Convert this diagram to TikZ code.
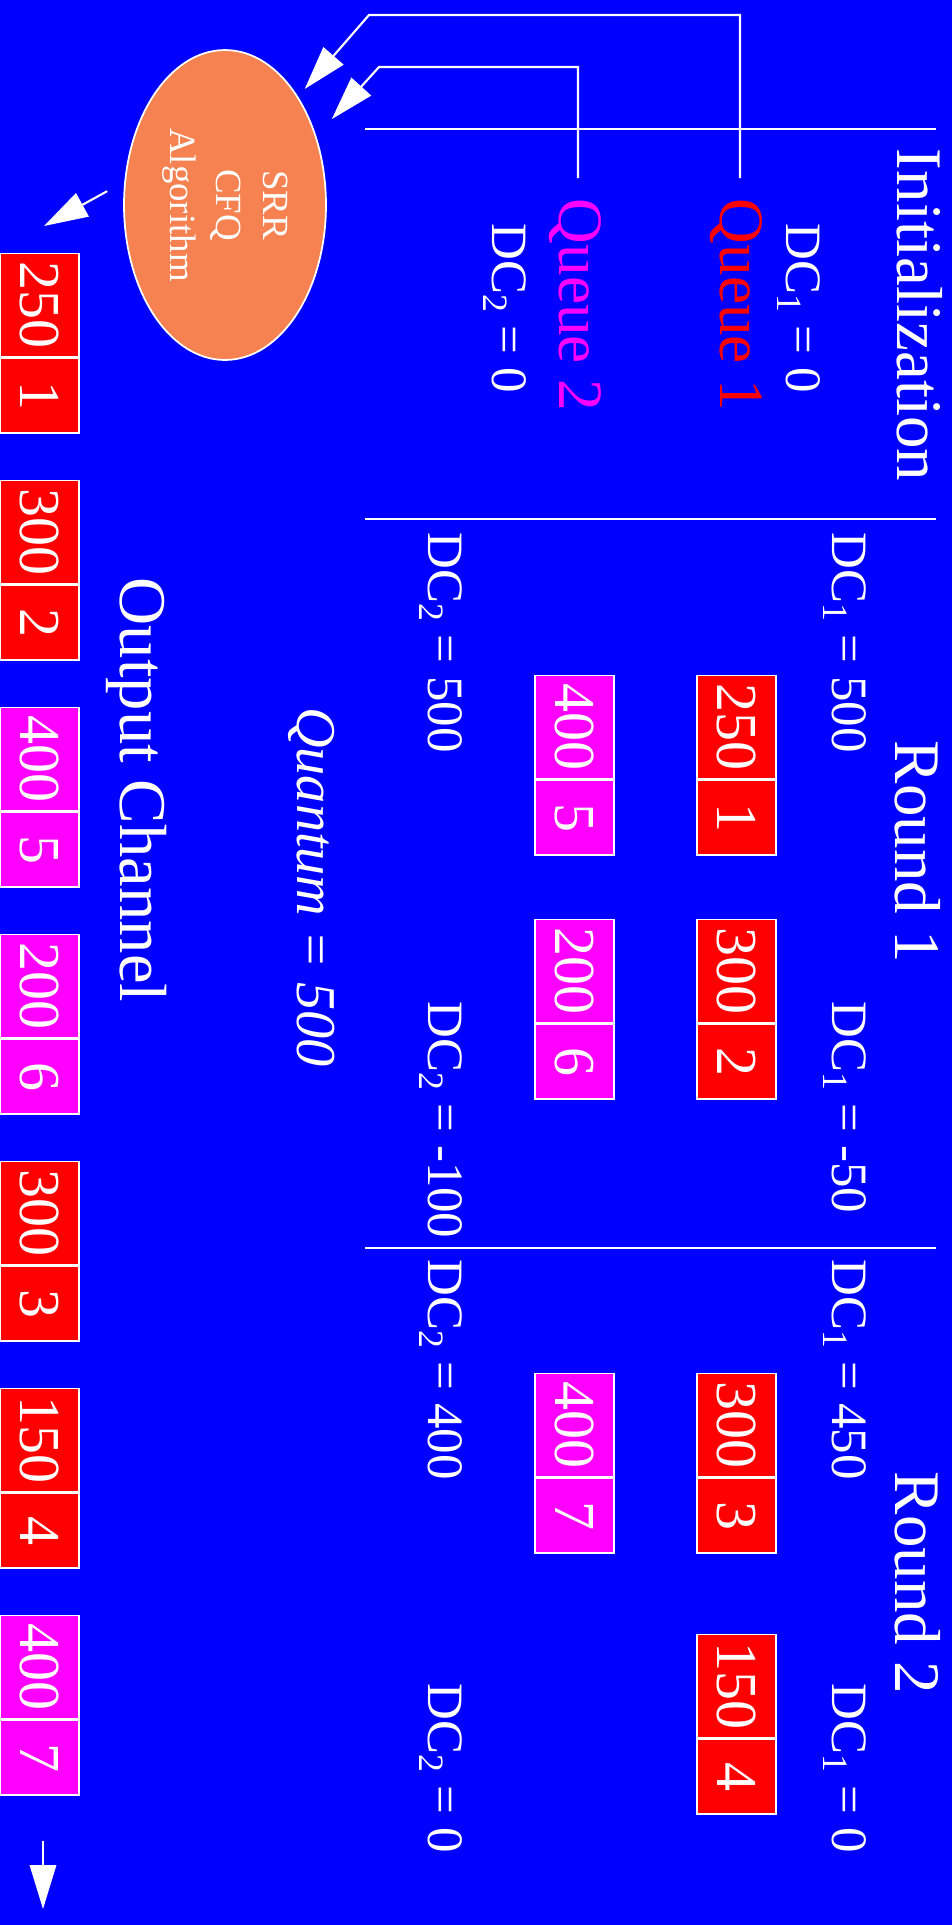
\documentclass[tikz,border=0pt]{standalone}
\usepackage{fontspec}
\setmainfont{Liberation Serif}
\usetikzlibrary{arrows.meta,shapes.geometric}
\definecolor{slide}{RGB}{0,0,255}
\definecolor{algo}{RGB}{245,130,80}
\definecolor{qred}{RGB}{255,0,0}
\definecolor{qmag}{RGB}{255,0,255}
\begin{document}
\begin{tikzpicture}[x=0.02cm, y=-0.02cm, every node/.style={text=white, rotate=-90, inner sep=0pt},
	ttl/.style={font=\fontsize{37}{40}\selectfont, anchor=base},
	que/.style={font=\fontsize{36}{40}\selectfont, anchor=base},
	dc/.style={font=\fontsize{29}{32}\selectfont, anchor=base west},
	pkt/.style={draw=white, line width=0.8pt, minimum height=1.58cm, anchor=west, font=\fontsize{33}{35}\selectfont},
	pktsize/.style={pkt, minimum width=2.06cm}, pktnum/.style={pkt, minimum width=1.5cm},
	wire/.style={draw=white, line width=1.2pt}, arr/.style={wire, -{Triangle[length=25pt, width=15pt]}}]
	\useasboundingbox (0,0) rectangle (952,1925);
	\fill[slide] (0,0) rectangle (952,1925);
	% column heads and separators
	\node[ttl] (init) at (897,315) {Initialization};
	\node[ttl] (rnd1) at (895,852) {Round 1};
	\node[ttl] (rnd2) at (895,1583) {Round 2};
	\draw[wire] (365,129) -- (936,129); \draw[wire] (365,519) -- (936,519); \draw[wire] (365,1248) -- (936,1248);
	% initialization
	\node[dc, anchor=base] (dca0) at (786,308) {DC\textsubscript{1} = 0};
	\node[que, text=qred] (q1) at (720,305) {Queue 1};
	\node[que, text=qmag] (q2) at (559,305) {Queue 2};
	\node[dc, anchor=base] (dcb0) at (492,308) {DC\textsubscript{2} = 0};
	% round 1
	\node[dc] (dca1) at (832,532) {DC\textsubscript{1} = 500}; \node[dc] (dcb1) at (428,532) {DC\textsubscript{2} = 500};
	\node[dc] (dca2) at (832,1001) {DC\textsubscript{1} = -50}; \node[dc] (dcb2) at (428,1001) {DC\textsubscript{2} = -100};
	\node[pktsize, fill=qred] (ra1) at (736.5,675) {250}; \node[pktnum, fill=qred] (ra1n) at (ra1.east) {1};
	\node[pktsize, fill=qred] (ra2) at (736.5,919) {300}; \node[pktnum, fill=qred] (ra2n) at (ra2.east) {2};
	\node[pktsize, fill=qmag] (rb1) at (574.5,675) {400}; \node[pktnum, fill=qmag] (rb1n) at (rb1.east) {5};
	\node[pktsize, fill=qmag] (rb2) at (574.5,919) {200}; \node[pktnum, fill=qmag] (rb2n) at (rb2.east) {6};
	\node[font=\fontsize{32}{34}\selectfont\itshape, anchor=base] (quant) at (297,887) {Quantum = 500};
	% round 2
	\node[dc] (dca3) at (832,1259) {DC\textsubscript{1} = 450}; \node[dc] (dcb3) at (428,1259) {DC\textsubscript{2} = 400};
	\node[dc] (dca4) at (832,1683) {DC\textsubscript{1} = 0}; \node[dc] (dcb4) at (428,1683) {DC\textsubscript{2} = 0};
	\node[pktsize, fill=qred] (ra3) at (736.5,1373) {300}; \node[pktnum, fill=qred] (ra3n) at (ra3.east) {3};
	\node[pktsize, fill=qred] (ra4) at (736.5,1634) {150}; \node[pktnum, fill=qred] (ra4n) at (ra4.east) {4};
	\node[pktsize, fill=qmag] (rb3) at (574.5,1373) {400}; \node[pktnum, fill=qmag] (rb3n) at (rb3.east) {7};
	% scheduler
	\node[ellipse, draw=white, line width=1pt, fill=algo, minimum width=6.2cm, minimum height=4.04cm, align=center, font=\fontsize{21}{26.5}\selectfont] (alg) at (225,205) {SRR\\CFQ\\Algorithm};
	\coordinate (q1top) at (740,178); \coordinate (q2top) at (578,178);
	\draw[arr, shorten >=0.2cm] (q1top) |- (369,15) -- (alg.146.9);
	\draw[arr, shorten >=0.46cm] (q2top) |- (379,67) -- (alg.127.3);
	% output channel
	\node[ttl, font=\fontsize{38}{40}\selectfont] (outch) at (120,790) {Output Channel};
	\coordinate (chan) at (44,226);
	\draw[arr, shorten <=0.39cm] (alg.257.2) -- (chan);
	\node[pktsize, fill=qred] (ch1) at (39.5,253) {250}; \node[pktnum, fill=qred] (ch1n) at (ch1.east) {1};
	\node[pktsize, fill=qred] (ch2) at (39.5,480) {300}; \node[pktnum, fill=qred] (ch2n) at (ch2.east) {2};
	\node[pktsize, fill=qmag] (ch3) at (39.5,707) {400}; \node[pktnum, fill=qmag] (ch3n) at (ch3.east) {5};
	\node[pktsize, fill=qmag] (ch4) at (39.5,934) {200}; \node[pktnum, fill=qmag] (ch4n) at (ch4.east) {6};
	\node[pktsize, fill=qred] (ch5) at (39.5,1161) {300}; \node[pktnum, fill=qred] (ch5n) at (ch5.east) {3};
	\node[pktsize, fill=qred] (ch6) at (39.5,1388) {150}; \node[pktnum, fill=qred] (ch6n) at (ch6.east) {4};
	\node[pktsize, fill=qmag] (ch7) at (39.5,1615) {400}; \node[pktnum, fill=qmag] (ch7n) at (ch7.east) {7};
	\coordinate (sink) at (43,1909);
	\draw[arr, shorten <=0.9cm] (ch7n.east -| sink) -- (sink);
\end{tikzpicture}
\end{document}
